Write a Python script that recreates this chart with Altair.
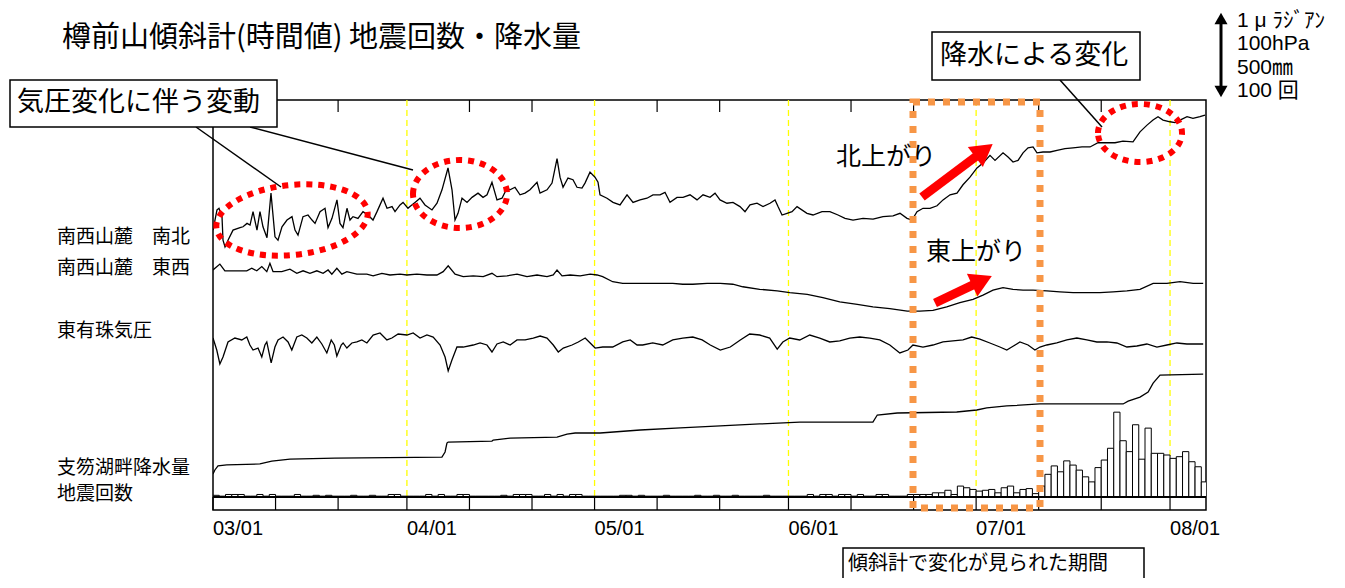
import altair as alt
import pandas as pd

# ---------------- x axis (days since 03/01) ----------------
MONTH_DAYS = [0, 31, 61, 92, 122, 153]
MONTH_LABELS = ["03/01", "04/01", "05/01", "06/01", "07/01", "08/01"]
MID_TICK_DAYS = [10, 20, 41, 51, 71, 81, 102, 112, 132, 142]
DAY_END = 158.75

# ---------------- series (day, value) ----------------
# 南西山麓 南北 tilt, micro-radian (relative)
NS_TILT = [(0.0,-0.18),(0.64,0.06),(0.96,0.08),(1.44,-0.02),(1.6,-0.30),(1.92,-0.38),(2.4,-0.30),(3.2,-0.18),
 (4.32,-0.15),(4.8,-0.14),(5.44,-0.10),(5.92,-0.12),(6.4,0.04),(7.03,-0.18),(7.51,0.04),(7.99,-0.14),(8.63,-0.27),
 (9.27,0.26),(9.91,-0.26),(10.39,-0.30),(11.03,-0.14),(11.83,-0.06),(12.63,-0.02),(13.11,-0.18),(13.59,-0.24),
 (14.39,-0.02),(15.19,0.00),(15.83,-0.06),(16.31,-0.10),(17.11,0.04),(17.91,0.08),(18.39,-0.15),(19.02,-0.04),
 (19.82,0.18),(20.30,-0.10),(20.78,-0.15),(21.42,0.08),(21.90,-0.06),(22.38,-0.02),(23.18,-0.04),(23.98,0.04),
 (24.78,0.00),(25.58,-0.06),(26.22,0.04),(27.18,0.20),(27.82,0.08),(28.62,0.10),(29.10,0.04),(29.90,0.12),
 (30.38,0.15),(31.17,0.08),(31.49,0.10),(32.29,0.15),(33.09,0.20),(33.89,0.12),(35.01,0.06),(35.81,0.14),
 (36.61,0.30),(37.57,0.56),(38.21,0.30),(38.69,-0.06),(39.17,0.02),(39.81,0.20),(40.61,0.15),(41.41,0.21),
 (42.37,0.26),(43.17,0.21),(43.81,0.24),(44.60,0.39),(45.40,0.18),(46.20,0.20),(47.00,0.32),(47.48,0.30),
 (48.28,0.33),(49.08,0.24),(49.88,0.26),(50.68,0.30),(51.80,0.39),(52.28,0.26),(53.40,0.30),(54.20,0.38),
 (55.00,0.67),(55.48,0.45),(55.96,0.33),(56.75,0.44),(57.55,0.42),(58.19,0.33),(58.99,0.32),(59.47,0.38),
 (60.27,0.51),(61.07,0.45),(61.55,0.39),(61.87,0.24),(62.99,0.20),(63.95,0.15),(65.07,0.12),(66.19,0.24),
 (67.15,0.15),(68.27,0.18),(69.38,0.20),(70.34,0.24),(71.46,0.24),(72.26,0.27),(73.06,0.15),(74.18,0.21),
 (75.14,0.21),(76.26,0.24),(77.38,0.18),(78.34,0.24),(79.46,0.21),(80.26,0.26),(81.06,0.18),(82.17,0.14),
 (83.13,0.15),(84.25,0.10),(85.05,0.04),(85.85,0.12),(86.97,0.14),(87.93,0.10),(89.05,0.14),(89.85,0.18),
 (90.33,0.10),(90.97,0.00),(91.77,0.02),(92.57,0.04),(93.37,0.10),(94.96,0.02),(95.92,0.00),(97.36,0.04),
 (98.62,0.04),(99.92,0.00),(101.04,-0.04),(102.32,-0.06),(103.92,-0.04),(105.52,-0.05),(107.11,-0.02),
 (108.71,-0.01),(109.83,0.02),(110.95,-0.04),(111.75,-0.06),(112.55,0.04),(113.51,0.08),(114.63,0.08),
 (115.75,0.11),(116.71,0.18),(117.83,0.24),(118.94,0.26),(119.90,0.36),(121.02,0.45),(122.14,0.56),
 (123.10,0.62),(124.22,0.71),(125.02,0.65),(126.30,0.74),(127.10,0.69),(127.90,0.63),(128.70,0.65),
 (129.50,0.74),(130.30,0.80),(131.10,0.81),(131.73,0.74),(132.69,0.75),(133.81,0.75),(134.93,0.77),
 (136.21,0.79),(137.49,0.80),(138.93,0.81),(140.21,0.81),(141.49,0.86),(142.93,0.86),(144.20,0.86),
 (145.48,0.88),(147.08,0.87),(148.20,0.99),(149.32,1.07),(150.28,1.13),(151.08,1.17),(151.88,1.13),
 (153.00,1.11),(153.80,1.10),(154.60,1.13),(155.72,1.17),(156.67,1.15),(157.79,1.17),(158.59,1.19)]

# 南西山麓 東西 tilt, micro-radian (relative)
EW_TILT = [(0.0,0.06),(1.1,0.13),(1.9,0.05),(3.8,0.05),(5.4,0.05),(6.2,0.08),(7.0,0.05),(7.8,0.10),(8.6,0.04),
 (9.1,0.14),(9.6,0.04),(11.0,0.04),(12.3,0.07),(13.4,0.02),(14.4,0.05),(15.5,0.02),(16.6,0.05),(17.6,0.02),
 (18.4,0.06),(19.0,0.01),(19.8,0.08),(20.6,0.01),(21.4,0.04),(23.0,0.01),(24.6,0.01),(25.6,-0.01),(27.0,0.02),
 (28.3,0.00),(29.9,0.01),(31.0,0.00),(32.6,0.01),(34.2,0.00),(35.8,0.00),(36.8,0.04),(37.6,0.11),(38.7,0.01),
 (40.0,-0.02),(41.6,-0.01),(43.2,-0.02),(44.6,0.02),(45.4,-0.02),(47.0,-0.01),(48.6,0.01),(50.2,-0.02),
 (51.8,0.00),(53.4,-0.02),(54.4,0.00),(55.0,0.06),(55.8,-0.01),(57.1,0.00),(58.7,-0.01),(60.3,0.01),(61.4,0.00),
 (62.3,-0.02),(63.9,-0.08),(65.5,-0.10),(67.1,-0.10),(68.7,-0.10),(70.3,-0.10),(71.9,-0.10),(73.5,-0.10),
 (75.1,-0.11),(76.7,-0.11),(79.0,-0.10),(81.1,-0.10),(83.1,-0.11),(84.7,-0.14),(87.4,-0.17),(90.2,-0.19),
 (92.2,-0.21),(95.0,-0.23),(97.5,-0.27),(100.2,-0.32),(103.0,-0.35),(105.5,-0.38),(108.2,-0.40),(111.0,-0.43),
 (113.0,-0.43),(115.1,-0.42),(117.3,-0.38),(119.4,-0.33),(121.5,-0.29),(123.1,-0.24),(124.7,-0.18),(126.3,-0.15),
 (127.9,-0.17),(129.5,-0.18),(131.1,-0.18),(133.3,-0.19),(135.4,-0.20),(137.5,-0.21),(139.7,-0.21),(141.8,-0.21),
 (143.9,-0.20),(146.1,-0.19),(148.2,-0.17),(150.3,-0.10),(152.5,-0.10),(154.6,-0.08),(156.7,-0.10),(158.3,-0.10)]

# 東有珠気圧, hPa
PRESSURE = [(0.0,1018.3),(0.6,1004.0),(1.1,987.4),(1.6,995.7),(2.4,1013.6),(3.5,1018.3),(4.6,1016.0),(5.4,1019.5),
 (5.9,1010.0),(6.4,1004.0),(7.2,1006.4),(7.8,995.7),(8.3,1010.0),(8.6,1013.6),(9.3,988.6),(9.9,1007.6),
 (10.4,1016.0),(11.2,1019.5),(12.0,1013.6),(12.6,1004.0),(13.4,1019.5),(14.2,1021.9),(15.0,1018.3),(15.8,1012.4),
 (16.6,1019.5),(17.4,1011.2),(18.2,1000.5),(18.9,1016.0),(19.4,1010.0),(19.8,996.9),(20.5,1010.0),(20.8,1012.4),
 (21.4,1006.4),(22.2,1012.4),(23.0,1013.6),(23.8,1016.0),(24.6,1012.4),(25.6,1021.9),(26.7,1024.3),(27.8,1016.0),
 (28.6,1018.3),(29.6,1023.1),(31.0,1021.9),(32.0,1024.3),(33.1,1018.3),(34.2,1021.9),(35.2,1019.5),(36.3,1010.0),
 (37.1,995.7),(37.6,979.1),(38.2,992.1),(39.0,1007.6),(40.0,1007.6),(41.6,1010.0),(42.7,1012.4),(43.8,1010.0),
 (44.6,1001.7),(45.4,1011.2),(46.4,1013.6),(47.5,1010.0),(48.6,1016.0),(49.9,1016.0),(51.2,1018.3),(52.3,1020.7),
 (53.4,1018.3),(54.4,1010.0),(55.2,1001.7),(56.0,1006.4),(57.4,1010.0),(58.4,1013.6),(59.5,1018.3),(60.3,1012.4),
 (61.1,1006.4),(62.3,1007.6),(63.9,1007.6),(65.5,1013.6),(66.7,1016.0),(67.8,1010.0),(68.7,1010.0),(70.3,1012.4),
 (71.9,1010.0),(73.5,1016.0),(75.1,1018.3),(76.7,1019.5),(78.2,1016.0),(79.5,1010.0),(81.1,1004.0),(82.7,1007.6),
 (84.3,1016.0),(85.8,1023.1),(87.4,1021.9),(89.0,1018.3),(90.2,1005.2),(91.1,1013.6),(92.2,1018.3),(93.8,1016.0),
 (95.4,1021.9),(97.0,1018.3),(98.6,1013.6),(100.2,1014.8),(101.8,1018.3),(103.4,1019.5),(105.0,1018.3),
 (106.6,1016.0),(108.2,1010.0),(109.8,1000.5),(111.1,1004.0),(111.9,1010.0),(113.5,1007.6),(115.1,1010.0),
 (116.7,1013.6),(118.3,1014.8),(119.9,1016.0),(121.3,1019.5),(122.6,1017.1),(124.2,1012.4),(125.8,1007.6),
 (126.9,1004.0),(127.7,1007.6),(129.0,1013.6),(130.3,1010.0),(131.4,1004.0),(132.2,1007.6),(133.3,1010.0),
 (134.9,1012.4),(136.5,1016.0),(138.1,1018.3),(139.7,1016.0),(141.3,1013.6),(142.9,1013.6),(144.5,1012.4),
 (146.1,1007.6),(147.7,1008.8),(149.3,1011.2),(150.9,1007.6),(152.5,1010.0),(154.1,1012.4),(155.7,1011.2),
 (158.3,1011.2)]

# 支笏湖畔降水量, cumulative mm
RAIN_CUM = [(0.0,0),(0.3,24),(0.8,48),(2.2,54),(7.5,60),(9.4,77),(12.3,89),(19.5,95),(36.6,101),(37.1,131),
 (37.4,184),(37.6,190),(44.6,196),(44.8,202),(47.5,214),(55.0,220),(56.6,238),(57.9,244),(61.9,244),(68.3,262),
 (74.7,274),(81.1,286),(87.4,298),(93.8,309),(105.5,309),(106.2,351),(109.4,363),(118.9,369),(122.1,381),
 (123.7,393),(126.9,405),(132.2,417),(145.5,417),(146.3,434),(148.2,458),(149.5,488),(150.3,541),(151.4,589),
 (158.3,595)]

# 地震回数, daily counts from 03/01
QUAKES = [2,1,3,3,3,1,1,3,1,3, 1,1,1,3,1,1,2,1,2,1, 1,1,2,1,1,2,1,1,3,3, 1,1,1,1,3,1,3,1,1,3,
          3,1,1,1,1,1,2,1,3,3, 3,1,1,3,1,3,1,3,3,1, 1,1,1,1,1,2,2,1,2,1, 1,1,2,1,1,1,1,2,1,1,
          2,1,1,2,1,1,1,1,2,1, 1,1,1,1,1,3,1,3,3,1, 3,3,1,3,1,1,3,3,1,1, 1,3,3,
          3,3,5,5,8,3,13,11,9,7,8,9,5,11,13,5,9,10,4,13,
          27,37,30,43,38,32,24,18,35,44,58,101,67,54,86,45,82,52,52,50,46,48,54,42,36,18]

SERIES_LABELS = ["南西山麓　南北", "南西山麓　東西", "東有珠気圧", "支笏湖畔降水量", "地震回数"]
SCALE_LABELS = ["1 μ ﾗｼﾞｱﾝ", "100hPa", "500㎜", "100 回"]

# ---------------- styling ----------------
W, H = 993, 410
BASE = 13
CJK = "Noto Sans CJK JP"
NARROW = "'Liberation Sans Narrow', 'Liberation Sans', 'Noto Sans CJK JP', sans-serif"
RED = "#ff0000"
ORANGE = "#f79646"

xs = alt.Scale(domain=[0, DAY_END], nice=False, zero=False)
ys = alt.Scale(domain=[0, H], nice=False, zero=False)
one = pd.DataFrame({"k": [0]})


def X(f):
    return alt.X(f"{f}:Q", scale=xs, axis=None)


def Y(f):
    return alt.Y(f"{f}:Q", scale=ys, axis=None)


def trace(pairs, expr):
    df = pd.DataFrame(pairs, columns=["day", "v"])
    return (alt.Chart(df).transform_calculate(disp=expr)
            .mark_line(color="black", strokeWidth=1.3, clip=True)
            .encode(x=X("day"), y=Y("disp"), order="day:Q"))


layers = []

# month grid (yellow dashed)
layers.append(alt.Chart(pd.DataFrame({"day": MONTH_DAYS[1:]}))
              .mark_rule(color="#ffff00", strokeDash=[6, 4], strokeWidth=1.3)
              .encode(x=X("day"), y=alt.value(0), y2=alt.value(H - BASE)))
# top ticks
layers.append(alt.Chart(pd.DataFrame({"day": MID_TICK_DAYS}))
              .mark_rule(color="black", strokeWidth=1.2)
              .encode(x=X("day"), y=alt.value(0), y2=alt.value(12)))
# bottom strip ticks
layers.append(alt.Chart(pd.DataFrame({"day": MONTH_DAYS + MID_TICK_DAYS}))
              .mark_rule(color="black", strokeWidth=1.2)
              .encode(x=X("day"), y=alt.value(H - BASE), y2=alt.value(H)))

# quake histogram
qdf = pd.DataFrame({"day": list(range(len(QUAKES))), "v": QUAKES})
layers.append(alt.Chart(qdf).transform_filter("datum.v > 0")
              .transform_calculate(day2="datum.day + 1", y0=str(BASE), y1=f"{BASE} + datum.v * 0.84")
              .mark_rect(fill="white", stroke="black", strokeWidth=1, clip=True)
              .encode(x=X("day"), x2="day2:Q", y=Y("y1"), y2="y0:Q"))
# baseline
layers.append(alt.Chart(one).mark_rule(color="black", strokeWidth=2)
              .encode(x=alt.value(0), x2=alt.value(W), y=alt.value(H - BASE)))

# traces
layers.append(trace(NS_TILT, "295 + datum.v * 84"))
layers.append(trace(EW_TILT, "235 + datum.v * 84"))
layers.append(trace(PRESSURE, "165 + (datum.v - 1010) * 0.84"))
layers.append(trace(RAIN_CUM, "36 + datum.v * 0.168"))

# month labels
layers.append(alt.Chart(pd.DataFrame({"day": MONTH_DAYS, "label": MONTH_LABELS}))
              .mark_text(align="left", baseline="middle", font=NARROW, fontSize=20, color="black")
              .encode(x=X("day"), y=alt.value(H + 19), text="label:N"))

# orange period rectangle
layers.append(alt.Chart(one).mark_rect(fill="transparent", stroke=ORANGE, strokeWidth=7, strokeDash=[7, 8])
              .encode(x=alt.value(700), x2=alt.value(827), y=alt.value(2), y2=alt.value(408)))


def ellipse_path(r):
    k = 0.5523
    return (f"M -1 0 C -1 {-k*r:.4f} {-k} {-r:.4f} 0 {-r:.4f} C {k} {-r:.4f} 1 {-k*r:.4f} 1 0 "
            f"C 1 {k*r:.4f} {k} {r:.4f} 0 {r:.4f} C {-k} {r:.4f} -1 {k*r:.4f} -1 0 Z")


for cx, cy, rx, ry, ang in [(79, 120, 76, 35, 354), (247, 94, 47, 34, 0), (927, 33, 42, 29, 0)]:
    layers.append(alt.Chart(one).mark_point(shape=ellipse_path(ry / rx), size=(2 * rx) ** 2, angle=ang,
                                            filled=False, stroke=RED, strokeWidth=6, strokeDash=[6, 6],
                                            opacity=1)
                  .encode(x=alt.value(cx), y=alt.value(cy)))

# callout lines
lines_df = pd.DataFrame({"x": [-17, 37, 847], "y": [27, 27, -20], "x2": [68, 200, 889], "y2": [87, 70, 27]})
layers.append(alt.Chart(lines_df).mark_rule(color="black", strokeWidth=1.5)
              .encode(x=alt.X("x:Q", scale=None), y=alt.Y("y:Q", scale=None), x2="x2:Q", y2="y2:Q"))

# boxes
box_df = pd.DataFrame({"x": [-203, 719, 630], "x2": [64, 927, 931], "y": [-20, -68, 448], "y2": [27, -20, 520]})
layers.append(alt.Chart(box_df).mark_rect(fill="white", stroke="black", strokeWidth=1.5)
              .encode(x=alt.X("x:Q", scale=None), x2="x2:Q", y=alt.Y("y:Q", scale=None), y2="y2:Q"))

# red arrows
arrows_df = pd.DataFrame({"x": [709, 722], "y": [97, 203], "x2": [771, 769], "y2": [50.5, 180.6]})
layers.append(alt.Chart(arrows_df).mark_rule(color=RED, strokeWidth=9, strokeCap="butt")
              .encode(x=alt.X("x:Q", scale=None), y=alt.Y("y:Q", scale=None), x2="x2:Q", y2="y2:Q"))
for hx, hy, ang in [(771, 50.5, 53), (769, 180.6, 65)]:
    layers.append(alt.Chart(one).mark_point(shape="triangle-up", size=625, angle=ang, filled=True,
                                            color=RED, opacity=1)
                  .encode(x=alt.value(hx), y=alt.value(hy)))

# scale arrow
layers.append(alt.Chart(one).mark_rule(color="black", strokeWidth=3)
              .encode(x=alt.value(1008), y=alt.value(-80), y2=alt.value(-10)))
for hy, shp in [(-81.5, "triangle-up"), (-8.5, "triangle-down")]:
    layers.append(alt.Chart(one).mark_point(shape=shp, size=169, filled=True, color="black", opacity=1)
                  .encode(x=alt.value(1008), y=alt.value(hy)))
layers.append(alt.Chart(pd.DataFrame({"txt": SCALE_LABELS, "y": [-79, -56, -32, -9]}))
              .mark_text(align="left", baseline="middle", font=NARROW, fontSize=21, color="black")
              .encode(x=alt.value(1024), y=alt.Y("y:Q", scale=None), text="txt:N"))

# Japanese texts
cjk_df = pd.DataFrame({
    "txt": ["樽前山傾斜計(時間値) 地震回数・降水量", "気圧変化に伴う変動", "降水による変化", "北上がり", "東上がり"]
           + SERIES_LABELS + ["傾斜計で変化が見られた期間"],
    "x": [-151, -196, 727, 623, 713, -156, -156, -156, -156, -156, 635],
    "y": [-62, 3, -44, 57, 152, 137, 168, 231, 368, 394, 464],
    "fs": [29, 27, 27, 25, 25, 19, 19, 19, 19, 19, 20],
})
layers.append(alt.Chart(cjk_df).mark_text(align="left", baseline="middle", font=CJK, color="black")
              .encode(x=alt.X("x:Q", scale=None), y=alt.Y("y:Q", scale=None), text="txt:N",
                      size=alt.Size("fs:Q", scale=None, legend=None)))

chart = (alt.layer(*layers)
         .properties(width=W, height=H, background="white",
                     autosize=alt.AutoSizeParams(type="none"),
                     padding={"left": 205, "top": 92, "right": 131, "bottom": 68})
         .configure_view(stroke="black", strokeWidth=1.5))

chart.save("out.html", embed_options={"renderer": "svg", "actions": False})
